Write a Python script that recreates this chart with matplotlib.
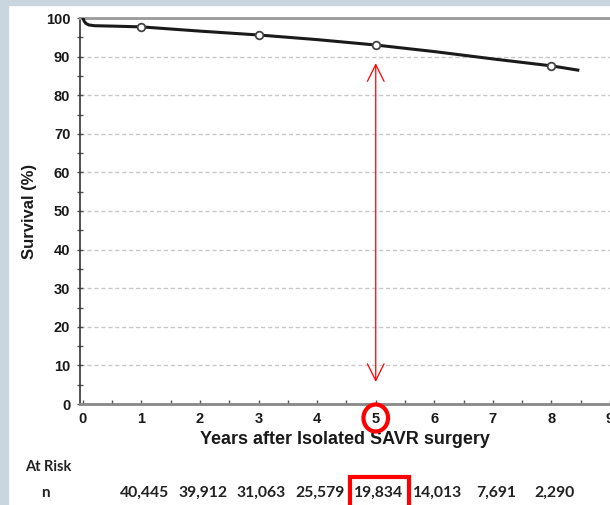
import matplotlib
matplotlib.use("Agg")
import matplotlib.pyplot as plt
import matplotlib.transforms as mtransforms
from matplotlib.patches import Rectangle, Ellipse

# ---- data ----
years = [0, 0.02, 0.05, 0.1, 0.2, 0.5, 1, 2, 3, 4, 5, 6, 7, 8, 8.45]
survival = [100, 99.2, 98.6, 98.2, 98.0, 97.9, 97.7, 96.6, 95.6, 94.4, 93.0, 91.3, 89.4, 87.6, 86.5]
marker_years = [1, 3, 5, 8]
marker_surv = [97.7, 95.6, 93.0, 87.6]
risk_years = [1, 2, 3, 4, 5, 6, 7, 8]
risk_n = ["40,445", "39,912", "31,063", "25,579", "19,834", "14,013", "7,691", "2,290"]
xticks = list(range(0, 10))
yticks = list(range(0, 101, 10))
highlight_year = 5
arrow_top, arrow_bottom = 89.0, 5.0

fig = plt.figure(figsize=(6.10, 5.05), dpi=100, facecolor="white")
ax = fig.add_axes([80/610, 101/505, 530/610, 386/505])

lab_font = "Liberation Sans"

# grid
for y in yticks[1:-1]:
    ax.axhline(y, color="#c8c8c8", lw=1.0, ls=(0, (3, 2)), zorder=1)

ax.plot(years, survival, color="#1a1a1a", lw=2.2, zorder=3)
ax.plot(marker_years, marker_surv, ls="none", marker="o", ms=5.5,
        mfc="white", mec="#444444", mew=1.3, zorder=4)

ax.set_xlim(-0.05, 9.0)
ax.set_ylim(0, 100)
ax.set_xticks(xticks)
ax.set_yticks(yticks)
ax.set_xticks([x + 0.5 for x in xticks[:-1]], minor=True)
ax.set_yticks([y + 5 for y in yticks[:-1]], minor=True)
ax.set_xticklabels([str(x) for x in xticks], fontfamily=lab_font,
                   fontweight="bold", fontsize=10.5, color="#1a1a1a")
ax.set_yticklabels([str(y) for y in yticks], fontfamily=lab_font,
                   fontweight="bold", fontsize=10.5, color="#1a1a1a")
ax.tick_params(axis="x", which="both", direction="in", length=3, width=1,
               color="#555555", pad=6)
ax.tick_params(axis="y", which="both", direction="inout", length=4, width=1,
               color="#555555", pad=5)

ax.spines["right"].set_visible(False)
ax.spines["left"].set_color("#333333")
ax.spines["left"].set_linewidth(1.2)
ax.spines["bottom"].set_color("#888888")
ax.spines["bottom"].set_linewidth(2.0)
ax.spines["top"].set_color("#999999")
ax.spines["top"].set_linewidth(2.0)

ax.set_xlabel("Years after Isolated SAVR surgery", fontfamily=lab_font,
              fontweight="bold", fontsize=13, color="#1a1a1a", labelpad=3)
ax.set_ylabel("Survival (%)", fontfamily=lab_font, fontweight="bold",
              fontsize=12, color="#1a1a1a", labelpad=6)

# red double arrow
ax.annotate("", xy=(highlight_year, arrow_top), xytext=(highlight_year, arrow_bottom),
            arrowprops=dict(arrowstyle="<->", color="red", lw=0.9,
                            mutation_scale=30), zorder=5)

blend = mtransforms.blended_transform_factory(ax.transData, fig.transFigure)
shift = mtransforms.ScaledTranslation(3/100, 0, fig.dpi_scale_trans)
row_tr = blend + shift

# red circle around tick label 5
fig.patches.append(Ellipse((highlight_year, 1 - 418/505), 0.42, 27/505,
                           transform=blend, fill=False, ec="red", lw=3.0))

# at-risk table
fig.text(25/610, 1 - 467/505, "At Risk", fontfamily="Lato", fontweight="bold",
         fontsize=10.5, color="#222222", va="center", ha="left")
fig.text(45/610, 1 - 493/505, "n", fontfamily="Lato", fontweight="bold",
         fontsize=11, color="#222222", va="center", ha="center")
for x, n in zip(risk_years, risk_n):
    fig.text(x, 1 - 493/505, n, transform=row_tr, fontfamily="Lato",
             fontweight="bold", fontsize=11.3, color="#222222",
             va="center", ha="center")

# red box around highlighted at-risk count
fig.patches.append(Rectangle((highlight_year - 0.49, 1 - 508/505), 1.0, 31/505,
                             transform=row_tr, fill=False, ec="red", lw=3.0,
                             clip_on=False))

# light frame border
fig.patches.append(Rectangle((0, 0), 8/610, 1, transform=fig.transFigure,
                             color="#c9d6df", zorder=0))
fig.patches.append(Rectangle((0, 1 - 5/505), 1, 5/505, transform=fig.transFigure,
                             color="#c9d6df", zorder=0))

fig.savefig("out.png", dpi=100, facecolor="white")
